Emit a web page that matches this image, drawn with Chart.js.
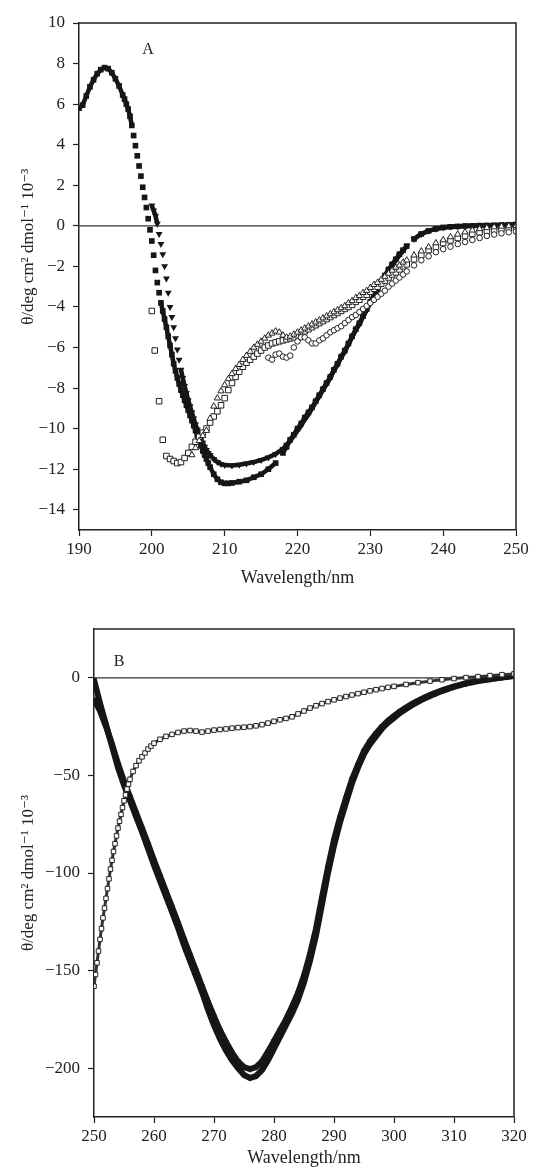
<!DOCTYPE html>
<html>
<head>
<meta charset="utf-8">
<script src="https://cdn.jsdelivr.net/npm/chart.js@4.4.0/dist/chart.umd.min.js"></script>
<style>
  html, body { margin: 0; padding: 0; background: #fff; }
  #wrap { position: relative; width: 533px; height: 1169px; }
  canvas { position: absolute; left: 0; }
  #chartA { top: 0; }
  #chartB { top: 595px; }
</style>
</head>
<body>
<div id="wrap">
  <canvas id="chartA" width="533" height="595"></canvas>
  <canvas id="chartB" width="533" height="574"></canvas>
</div>
<script>
// ---- panel A: far-UV CD, [wavelength nm, theta x10^-3] ----
var aXTicks = [190, 200, 210, 220, 230, 240, 250];
var aYTicks = [-14, -12, -10, -8, -6, -4, -2, 0, 2, 4, 6, 8, 10];

var aFilledSquares = [
  [190,5.8],[190.5,5.95],[191,6.4],[191.5,6.85],[192,7.2],[192.5,7.5],[193,7.7],[193.5,7.8],[194,7.75],[194.5,7.55],
  [195,7.25],[195.5,6.9],[196,6.45],[196.25,6.25],[196.5,6.0],[196.75,5.75],[197,5.4],[197.25,4.95],[197.5,4.45],[197.75,3.95],
  [198,3.45],[198.25,2.95],[198.5,2.45],[198.75,1.9],[199,1.4],[199.25,0.9],[199.5,0.35],[199.75,-0.2],[200,-0.75],[200.25,-1.45],
  [200.5,-2.2],[200.75,-2.8],[201,-3.3],[201.25,-3.8],[201.5,-4.2],[201.75,-4.6],[202,-5.0],[202.25,-5.45],[202.5,-5.9],[202.75,-6.35],
  [203,-6.8],[203.25,-7.15],[203.5,-7.5],[203.75,-7.8],[204,-8.1],[204.25,-8.35],[204.5,-8.6],[204.75,-8.85],[205,-9.1],[205.25,-9.35],
  [205.5,-9.6],[205.75,-9.85],[206,-10.1],[206.25,-10.35],[206.5,-10.6],[206.75,-10.85],[207,-11.1],[207.25,-11.3],[207.5,-11.5],[207.75,-11.7],
  [208,-11.9],[208.5,-12.25],[209,-12.5],[209.5,-12.65],[210,-12.7],[210.5,-12.7],[211,-12.68],[212,-12.62],[213,-12.55],[214,-12.4],
  [215,-12.25],[216,-12.0],[217,-11.7],[218,-11.2],[218.5,-10.9],[219,-10.55],[219.5,-10.3],[220,-10.0],[220.5,-9.75],[221,-9.45],
  [221.5,-9.2],[222,-8.95],[222.5,-8.65],[223,-8.35],[223.5,-8.05],[224,-7.75],[224.5,-7.45],[225,-7.1],[225.5,-6.8],[226,-6.45],
  [226.5,-6.15],[227,-5.8],[227.5,-5.45],[228,-5.1],[228.5,-4.8],[229,-4.45],[229.5,-4.1],[230,-3.75],[230.5,-3.4],[231,-3.1],
  [231.5,-2.75],[232,-2.45],[232.5,-2.15],[233,-1.9],[233.5,-1.65],[234,-1.4],[234.5,-1.2],[235,-1.0],[236,-0.65],[237,-0.4],
  [238,-0.25],[239,-0.15],[240,-0.08],[241,-0.05],[242,-0.03],[243,-0.01],[244,0.0],[245,0.01],[246,0.02],[247,0.03],
  [248,0.04],[249,0.05],[250,0.07]
];

var aFilledTriangles = [
  [200,1.0],[200.25,0.75],[200.5,0.5],[200.75,0.1],[201,-0.4],[201.25,-0.9],[201.5,-1.4],[201.75,-2.0],[202,-2.6],[202.25,-3.3],
  [202.5,-4.0],[202.75,-4.5],[203,-5.0],[203.25,-5.55],[203.5,-6.1],[203.75,-6.6],[204,-7.1],[204.25,-7.5],[204.5,-7.9],[204.75,-8.25],
  [205,-8.6],[205.25,-8.9],[205.5,-9.2],[205.75,-9.5],[206,-9.8],[206.25,-10.05],[206.5,-10.3],[206.75,-10.5],[207,-10.7],[207.25,-10.9],
  [207.5,-11.05],[207.75,-11.2],[208,-11.3],[208.5,-11.5],[209,-11.65],[209.5,-11.75],[210,-11.8],[211,-11.82],[212,-11.78],[213,-11.72],
  [214,-11.65],[215,-11.55],[216,-11.42],[217,-11.25],[218,-11.0],[218.5,-10.8],[219,-10.6],[219.5,-10.35],[220,-10.1],[220.5,-9.85],
  [221,-9.55],[221.5,-9.3],[222,-9.0],[222.5,-8.7],[223,-8.4],[223.5,-8.1],[224,-7.8],[224.5,-7.5],[225,-7.15],[225.5,-6.85],
  [226,-6.5],[226.5,-6.2],[227,-5.85],[227.5,-5.5],[228,-5.15],[228.5,-4.85],[229,-4.5],[229.5,-4.15],[230,-3.8],[230.5,-3.45],
  [231,-3.15],[231.5,-2.8],[232,-2.5],[232.5,-2.2],[233,-1.95],[233.5,-1.7],[234,-1.45],[234.5,-1.22],[235,-1.0],[236,-0.65],
  [237,-0.4],[238,-0.25],[239,-0.15],[240,-0.08],[241,-0.04],[242,-0.02],[243,-0.01],[244,0.0],[245,0.01],[246,0.02],
  [247,0.03],[248,0.04],[249,0.05],[250,0.06]
];

var aOpenSquares = [
  [200,-4.2],[200.4,-6.15],[201,-8.65],[201.5,-10.55],[202,-11.35],[202.5,-11.5],[203,-11.6],[203.5,-11.7],[204,-11.65],[204.5,-11.45],
  [205,-11.2],[205.5,-10.9],[206,-10.65],[206.5,-10.4],[207,-10.2],[207.5,-10.0],[208,-9.7],[208.5,-9.4],[209,-9.15],[209.5,-8.85],
  [210,-8.5],[210.5,-8.1],[211,-7.75],[211.5,-7.45],[212,-7.2],[212.5,-6.95],[213,-6.75],[213.5,-6.6],[214,-6.45],[214.5,-6.3],
  [215,-6.15],[215.5,-6.0],[216,-5.9],[216.5,-5.8],[217,-5.75],[217.5,-5.7],[218,-5.65],[218.5,-5.6],[219,-5.55],[219.5,-5.5],
  [220,-5.4],[220.5,-5.3],[221,-5.2],[221.5,-5.1],[222,-5.0],[222.5,-4.9],[223,-4.8],[223.5,-4.7],[224,-4.6],[224.5,-4.5],
  [225,-4.4],[225.5,-4.3],[226,-4.2],[226.5,-4.1],[227,-4.0],[227.5,-3.9],[228,-3.75],[228.5,-3.65],[229,-3.5],[229.5,-3.4],
  [230,-3.25],[230.5,-3.1],[231,-3.0],[231.5,-2.85],[232,-2.7],[232.5,-2.55],[233,-2.4],[233.5,-2.3],[234,-2.15],[234.5,-2.0],
  [235,-1.9],[236,-1.65],[237,-1.45],[238,-1.2],[239,-1.05],[240,-0.85],[241,-0.72],[242,-0.6],[243,-0.5],[244,-0.4],
  [245,-0.32],[246,-0.25],[247,-0.2],[248,-0.15],[249,-0.12],[250,-0.1]
];

var aOpenTriangles = [
  [205.5,-11.3],[206,-10.95],[206.5,-10.6],[207,-10.35],[207.5,-10.1],[208,-9.5],[208.5,-8.9],[209,-8.5],[209.5,-8.15],[210,-7.85],
  [210.5,-7.55],[211,-7.3],[211.5,-7.05],[212,-6.85],[212.5,-6.6],[213,-6.4],[213.5,-6.2],[214,-6.0],[214.5,-5.85],[215,-5.7],
  [215.5,-5.55],[216,-5.4],[216.5,-5.3],[217,-5.2],[217.5,-5.25],[218,-5.4],[218.5,-5.5],[219,-5.45],[219.5,-5.35],[220,-5.25],
  [220.5,-5.15],[221,-5.05],[221.5,-4.95],[222,-4.85],[222.5,-4.75],[223,-4.65],[223.5,-4.55],[224,-4.45],[224.5,-4.35],[225,-4.25],
  [225.5,-4.15],[226,-4.05],[226.5,-3.95],[227,-3.8],[227.5,-3.7],[228,-3.55],[228.5,-3.45],[229,-3.3],[229.5,-3.2],[230,-3.05],
  [230.5,-2.9],[231,-2.8],[231.5,-2.65],[232,-2.5],[232.5,-2.35],[233,-2.2],[233.5,-2.05],[234,-1.95],[234.5,-1.8],[235,-1.7],
  [236,-1.45],[237,-1.25],[238,-1.05],[239,-0.85],[240,-0.7],[241,-0.55],[242,-0.42],[243,-0.31],[244,-0.22],[245,-0.15],
  [246,-0.1],[247,-0.06],[248,-0.03],[249,-0.01],[250,0.0]
];

var aOpenCircles = [
  [216,-6.5],[216.5,-6.6],[217,-6.35],[217.5,-6.3],[218,-6.45],[218.5,-6.5],[219,-6.4],[219.5,-6.0],[220,-5.7],[220.5,-5.5],
  [221,-5.5],[221.5,-5.65],[222,-5.8],[222.5,-5.8],[223,-5.65],[223.5,-5.55],[224,-5.4],[224.5,-5.25],[225,-5.15],[225.5,-5.05],
  [226,-4.95],[226.5,-4.8],[227,-4.65],[227.5,-4.5],[228,-4.4],[228.5,-4.25],[229,-4.1],[229.5,-3.95],[230,-3.8],[230.5,-3.65],
  [231,-3.5],[231.5,-3.35],[232,-3.2],[232.5,-3.0],[233,-2.85],[233.5,-2.7],[234,-2.55],[234.5,-2.4],[235,-2.25],[236,-1.95],
  [237,-1.7],[238,-1.5],[239,-1.3],[240,-1.15],[241,-1.03],[242,-0.9],[243,-0.8],[244,-0.7],[245,-0.6],[246,-0.5],
  [247,-0.43],[248,-0.37],[249,-0.32],[250,-0.28]
];

// ---- panel B: near-UV CD ----
var bXTicks = [250, 260, 270, 280, 290, 300, 310, 320];
var bYTicks = [-200, -150, -100, -50, 0];

var bTrianglesOuter = [
  [250,-1],[251,-13],[252,-24],[253,-35],[254,-46],[255,-55],[256,-63],[257,-71],[258,-79],[259,-87.5],
  [260,-96],[261,-104],[262,-112],[263,-120],[264,-128],[265,-137],[266,-145],[267,-153],[268,-161],[269,-170],
  [270,-178],[271,-185],[272,-191],[273,-196],[274,-200],[275,-203.5],[276,-205],[277,-204],[278,-201],[279,-196],
  [280,-190],[281,-184],[282,-178],[283,-172],[284,-165],[285,-156],[286,-145],[287,-132],[288,-116],[289,-100],
  [290,-86],[291,-74],[292,-64],[293,-54],[294,-46],[295,-39],[296,-34],[297,-30],[298,-26],[299,-23],
  [300,-20.5],[301,-18],[302,-16],[303,-14],[304,-12.3],[305,-10.7],[306,-9.3],[307,-8],[308,-6.8],[309,-5.7],
  [310,-4.7],[311,-3.8],[312,-3],[313,-2.3],[314,-1.7],[315,-1.2],[316,-0.7],[317,-0.3],[318,0.1],[319,0.5],[320,0.9]
];

var bTrianglesInner = [
  [250,-11],[251,-17],[252,-25],[253,-34],[254,-44],[255,-53],[256,-61],[257,-69],[258,-77],[259,-85],
  [260,-93.5],[261,-101.5],[262,-109.5],[263,-117.5],[264,-125.5],[265,-134],[266,-142],[267,-150],[268,-158],[269,-166],
  [270,-173.5],[271,-180.5],[272,-186.5],[273,-192],[274,-196.5],[275,-199.5],[276,-200.5],[277,-199.5],[278,-196.5],[279,-191.5],
  [280,-186],[281,-180.5],[282,-175],[283,-168.5],[284,-161.5],[285,-152.5],[286,-141.5],[287,-128.5],[288,-112.5],[289,-97],
  [290,-83],[291,-71.5],[292,-61.5],[293,-52],[294,-44.5],[295,-37.5],[296,-32.5],[297,-28.5],[298,-25],[299,-22],
  [300,-19.5],[301,-17.2],[302,-15.2],[303,-13.3],[304,-11.7],[305,-10.2],[306,-8.8],[307,-7.6],[308,-6.4],[309,-5.4],
  [310,-4.4],[311,-3.6],[312,-2.8],[313,-2.1],[314,-1.5],[315,-1.0],[316,-0.5],[317,-0.1],[318,0.3],[319,0.6],[320,1.0]
];

var bOpenSquares = [
  [250,-158],[250.25,-152],[250.5,-146],[250.75,-140],[251,-134],[251.25,-128.5],[251.5,-123],[251.75,-118],[252,-113],[252.25,-108],
  [252.5,-103],[252.75,-98],[253,-93.5],[253.25,-89],[253.5,-85],[253.75,-81],[254,-77],[254.25,-73.5],[254.5,-70],[254.75,-66.5],
  [255,-63],[255.25,-60],[255.5,-57],[255.75,-54.5],[256,-52],[256.5,-48],[257,-45],[257.5,-42.5],[258,-40.5],[258.5,-38.5],
  [259,-36.5],[259.5,-35],[260,-33.5],[261,-31.5],[262,-30],[263,-29],[264,-28],[265,-27.3],[266,-27],[267,-27.3],
  [268,-27.8],[269,-27.3],[270,-26.8],[271,-26.5],[272,-26.2],[273,-25.8],[274,-25.5],[275,-25.3],[276,-25],[277,-24.6],
  [278,-24],[279,-23.2],[280,-22.3],[281,-21.5],[282,-20.8],[283,-20],[284,-18.5],[285,-17],[286,-15.5],[287,-14.3],
  [288,-13.2],[289,-12.2],[290,-11.3],[291,-10.4],[292,-9.6],[293,-8.8],[294,-8.1],[295,-7.4],[296,-6.7],[297,-6.1],
  [298,-5.5],[299,-4.9],[300,-4.4],[302,-3.4],[304,-2.5],[306,-1.7],[308,-1.0],[310,-0.4],[312,0.1],[314,0.6],
  [316,1.1],[318,1.6],[320,2.0]
];

var yTitle = '\u03b8/deg cm\u00b2 dmol\u207b\u00b9 10\u207b\u00b3';
var SERIF = "'Liberation Serif', 'DejaVu Serif', 'Times New Roman', serif";
var INK = '#161616';

Chart.defaults.font.family = SERIF;
Chart.defaults.color = '#222';

function toXY(pairs) {
  return pairs.map(function (p) { return { x: p[0], y: p[1] }; });
}

// hide line pieces between markers that sit far apart, so sparse stretches stay as separate symbols
function gapColor(limit, color) {
  return function (ctx) {
    var d = Math.hypot(ctx.p1.x - ctx.p0.x, ctx.p1.y - ctx.p0.y);
    return d > limit ? 'rgba(0,0,0,0)' : color;
  };
}

function filledSeries(pairs, style, rotation, radius, width, gap, order) {
  return {
    data: toXY(pairs),
    showLine: true,
    borderColor: INK,
    borderWidth: width,
    segment: { borderColor: gapColor(gap, INK) },
    pointStyle: style,
    pointRotation: rotation,
    pointRadius: radius,
    pointBackgroundColor: INK,
    pointBorderColor: INK,
    pointBorderWidth: 0,
    order: order
  };
}

function openSeries(pairs, style, radius, order) {
  return {
    data: toXY(pairs),
    showLine: false,
    pointStyle: style,
    pointRadius: radius,
    pointBackgroundColor: '#fff',
    pointBorderColor: '#222',
    pointBorderWidth: 1,
    order: order
  };
}

var framePlugin = {
  id: 'frame',
  beforeDatasetsDraw: function (chart) {
    var a = chart.chartArea, ctx = chart.ctx;
    var y0 = chart.scales.y.getPixelForValue(0);
    ctx.save();
    ctx.strokeStyle = '#333';
    ctx.lineWidth = 1.2;
    ctx.beginPath();
    ctx.moveTo(a.left, y0);
    ctx.lineTo(a.right, y0);
    ctx.stroke();
    ctx.restore();
  },
  afterDraw: function (chart, args, opts) {
    var a = chart.chartArea, ctx = chart.ctx;
    ctx.save();
    ctx.strokeStyle = '#222';
    ctx.lineWidth = 1.5;
    ctx.beginPath();
    ctx.moveTo(a.left, a.top);
    ctx.lineTo(a.right, a.top);
    ctx.lineTo(a.right, a.bottom);
    ctx.stroke();
    ctx.fillStyle = '#222';
    ctx.font = '16px ' + SERIF;
    ctx.textAlign = 'center';
    ctx.textBaseline = 'middle';
    ctx.fillText(opts.letter, a.left + opts.dx, a.top + opts.dy);
    ctx.restore();
  }
};

function minusSign(v) {
  return String(v).replace('-', '\u2212');
}

function buildScales(o) {
  var grid = { display: true, drawOnChartArea: false, drawTicks: true, tickLength: 6, tickWidth: 1.2, color: '#222' };
  var border = { display: true, color: '#222', width: 1.5 };
  return {
    x: {
      type: 'linear', min: o.xMin, max: o.xMax,
      afterBuildTicks: function (ax) { ax.ticks = o.xTicks.map(function (v) { return { value: v }; }); },
      afterFit: function (s) { s.height = o.xHeight; },
      grid: grid, border: border,
      ticks: { font: { size: 17 }, padding: 3, color: '#222', maxRotation: 0, callback: minusSign },
      title: { display: true, text: 'Wavelength/nm', font: { size: 18 }, color: '#222', padding: { top: 0, bottom: o.xTitlePad } }
    },
    y: {
      type: 'linear', min: o.yMin, max: o.yMax,
      afterBuildTicks: function (ax) { ax.ticks = o.yTicks.map(function (v) { return { value: v }; }); },
      afterFit: function (s) { s.width = o.yWidth; },
      grid: grid, border: border,
      ticks: { font: { size: 17 }, padding: 8, color: '#222', callback: minusSign },
      // leading spaces nudge the centred label upward (the text reads bottom to top)
      title: { display: true, text: o.yTitleLead + yTitle, font: { size: 17 }, color: '#222', padding: { top: 18, bottom: 0 } }
    }
  };
}

var commonOpts = {
  responsive: false,
  animation: false,
  events: [],
  plugins: { legend: { display: false }, tooltip: { enabled: false } }
};

new Chart(document.getElementById('chartA'), {
  type: 'scatter',
  data: {
    datasets: [
      openSeries(aOpenCircles, 'circle', 2.8, 1),
      openSeries(aOpenTriangles, 'triangle', 3.6, 2),
      openSeries(aOpenSquares, 'rect', 3.9, 3),
      filledSeries(aFilledTriangles, 'triangle', 180, 4, 4.5, 9.9, 4),
      filledSeries(aFilledSquares, 'rect', 0, 4, 4.5, 9.9, 5)
    ]
  },
  options: Object.assign({}, commonOpts, {
    layout: { padding: { top: 23, right: 17, left: 0, bottom: 0 } },
    scales: buildScales({ xMin: 190, xMax: 250, yMin: -15, yMax: 10, xTicks: aXTicks, yTicks: aYTicks, xHeight: 65, yWidth: 79, xTitlePad: 6, yTitleLead: '              ' }),
    plugins: Object.assign({}, commonOpts.plugins, { frame: { letter: 'A', dx: 69, dy: 27 } })
  }),
  plugins: [framePlugin]
});

new Chart(document.getElementById('chartB'), {
  type: 'scatter',
  data: {
    datasets: [
      Object.assign(openSeries(bOpenSquares, 'rect', 3.2, 1), { showLine: true, borderColor: '#333', borderWidth: 3 }),
      filledSeries(bTrianglesInner, 'triangle', 180, 3.5, 6, Infinity, 2),
      filledSeries(bTrianglesOuter, 'triangle', 180, 3.5, 6, Infinity, 3)
    ]
  },
  options: Object.assign({}, commonOpts, {
    layout: { padding: { top: 34, right: 19, left: 0, bottom: 0 } },
    scales: buildScales({ xMin: 250, xMax: 320, yMin: -225, yMax: 25, xTicks: bXTicks, yTicks: bYTicks, xHeight: 52, yWidth: 94, xTitlePad: 0, yTitleLead: '' }),
    plugins: Object.assign({}, commonOpts.plugins, { frame: { letter: 'B', dx: 25, dy: 33 } })
  }),
  plugins: [framePlugin]
});
</script>
</body>
</html>
